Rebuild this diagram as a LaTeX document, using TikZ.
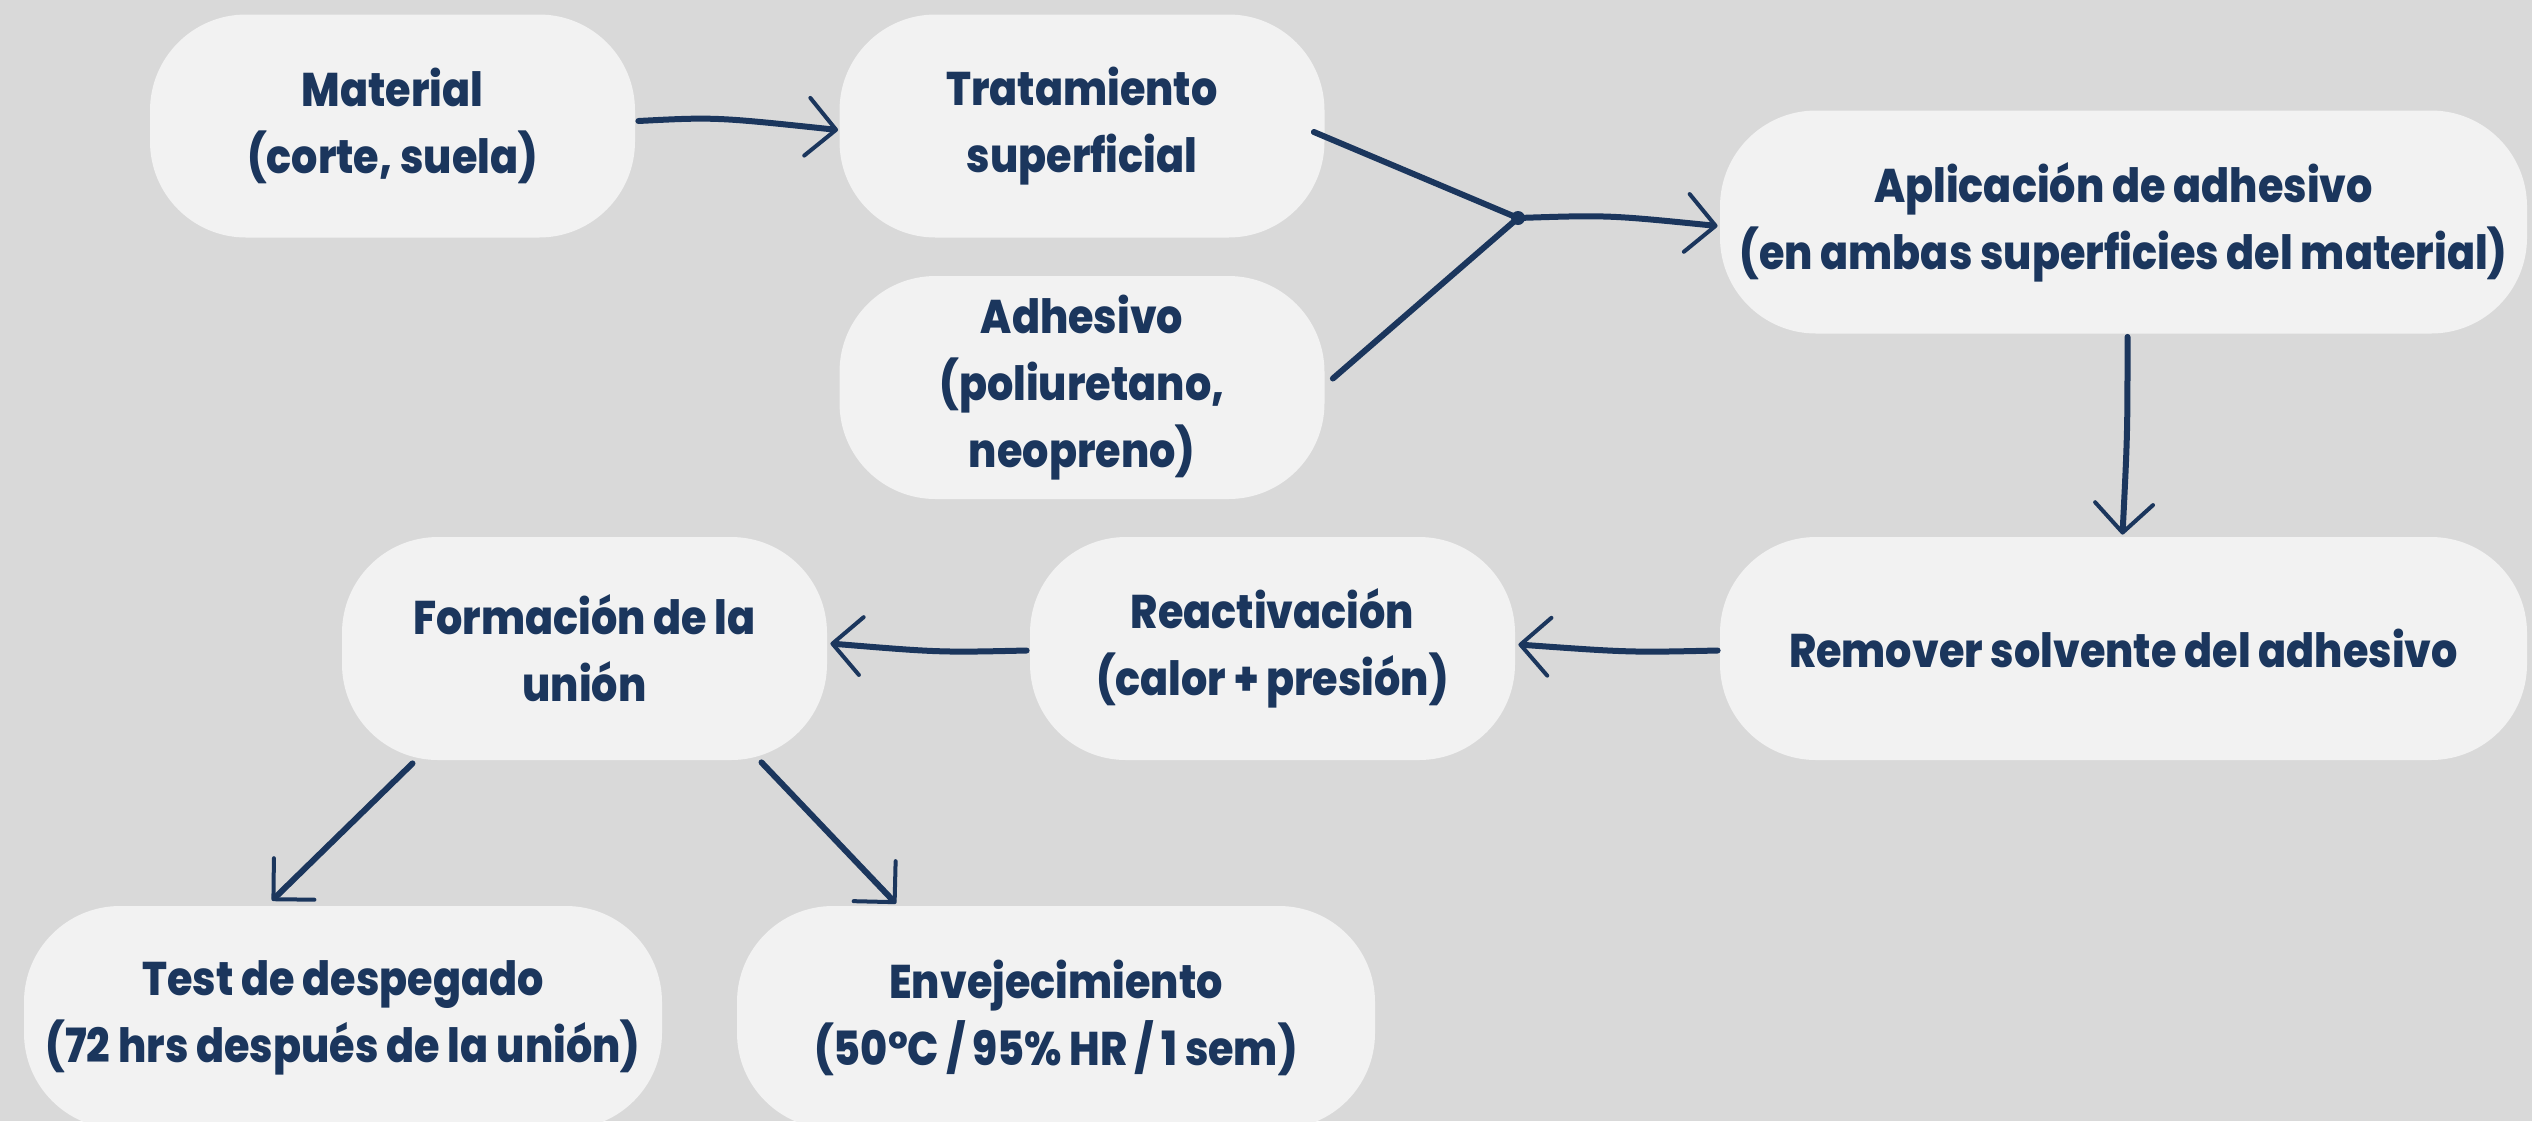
\documentclass[tikz,border=0pt]{standalone}
\usepackage{fontspec}
\setmainfont{Poppins}[FakeStretch=0.875,BoldFont={Poppins ExtraBold}]
\usetikzlibrary{arrows.meta,calc}
\definecolor{bgc}{HTML}{D9D9D9}
\definecolor{boxc}{HTML}{F2F2F2}
\definecolor{navy}{HTML}{1B365D}
\begin{document}
\begin{tikzpicture}[x=0.5pt,y=-0.5pt,
  box/.style={fill=boxc, rounded corners=48pt, minimum height=111.5pt,
    inner sep=0pt, align=center, text=navy,
    font=\bfseries\fontsize{23.6pt}{33.5pt}\selectfont},
  small/.style={box, minimum width=242.5pt},
  wide/.style={box, minimum width=403.5pt},
  mid/.style={box, minimum width=319pt},
  conn/.style={draw=navy, line width=3pt, line cap=round},
  arr/.style={conn, -{Straight Barb[length=14.5pt,width=29pt,line width=2pt,round]}}]
\useasboundingbox (0,0) rectangle (2532,1121);
\fill[bgc] (0,0) rectangle (2532,1121);
\node[small] (mat)  at (392.5,126)  {Material\\(corte, suela)};
\node[small] (trat) at (1082,126)   {Tratamiento\\superficial};
\node[small] (adh)  at (1082,387.5) {Adhesivo\\(poliuretano,\\neopreno)};
\node[wide]  (apl)  at (2123.5,222) {Aplicación de adhesivo\\(en ambas superficies del material)};
\node[wide]  (rem)  at (2123.5,648.5) {Remover solvente del adhesivo};
\node[small] (rea)  at (1272.5,648.5) {Reactivación\\(calor + presión)};
\node[small] (form) at (584.5,648.5) {Formación de la\\unión};
\node[mid]   (test) at (343,1017.5) {Test de despegado\\(72 hrs después de la unión)};
\node[mid]   (env)  at (1056,1017.5) {Envejecimiento\\(50°C / 95\% HR / 1 sem)};
\coordinate (j) at (1518,218);
% connectors
\draw[arr] ($(mat.east)+(3,-5)$) .. controls ($(mat.east)+(80,-9)$) .. ($(trat.west)+(-1,4)$);
\draw[conn] ($(trat.east)+(-11,6)$) -- (j);
\draw[conn] ($(adh.east)+(8,-9)$) -- (j);
\fill[navy] (j) circle (3.5pt);
\draw[arr] (j) .. controls ($(j)+(90,-3)$) .. ($(apl.west)+(-2,4)$);
\draw[arr] ($(apl.south)+(4,3)$) .. controls ($(apl.south)+(4,100)$) .. ($(rem.north)+(-1,-2)$);
\draw[arr] ($(rem.west)+(-2,2)$) .. controls ($(rem.west)+(-90,4)$) .. ($(rea.east)+(3,-4)$);
\draw[arr] ($(rea.west)+(-3,2)$) .. controls ($(rea.west)+(-90,4)$) .. ($(form.east)+(3,-5)$);
\draw[arr] ($(form.south)+(-172,3)$) -- ($(test.north)+(-71,-5)$);
\draw[arr] ($(form.south)+(177,2)$) -- ($(env.north)+(-160,-2)$);
\end{tikzpicture}
\end{document}
